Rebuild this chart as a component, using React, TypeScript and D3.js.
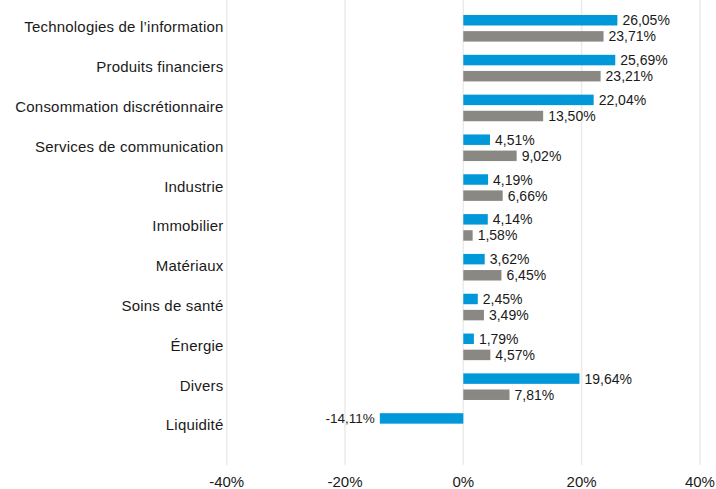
import React from "react";
import * as d3 from "d3";

const categories = [
  "Technologies de l\u2019information",
  "Produits financiers",
  "Consommation discrétionnaire",
  "Services de communication",
  "Industrie",
  "Immobilier",
  "Matériaux",
  "Soins de santé",
  "Énergie",
  "Divers",
  "Liquidité",
];
const fundValues: (number | null)[] = [26.05, 25.69, 22.04, 4.51, 4.19, 4.14, 3.62, 2.45, 1.79, 19.64, -14.11];
const indexValues: (number | null)[] = [23.71, 23.21, 13.5, 9.02, 6.66, 1.58, 6.45, 3.49, 4.57, 7.81, null];
const xTicks = [-40, -20, 0, 20, 40];
const seriesKeys = ["fund", "index"];
const seriesColors = ["#0098d8", "#8a8883"];

const W = 716;
const H = 489;

const fmt = (v: number) => v.toFixed(2).replace(".", ",") + "%";

export default function App() {
  const x = d3.scaleLinear().domain([-40, 40]).range([226.7, 699.9]);
  const y = d3.scaleBand<string>().domain(categories).range([8.4, 446.4]).paddingInner(0).paddingOuter(0);
  const y1 = d3
    .scaleBand<string>()
    .domain(seriesKeys)
    .range([0, y.bandwidth()])
    .paddingInner(0.35)
    .paddingOuter(0.41);
  const series = [fundValues, indexValues];
  const font = "'Liberation Sans', Arial, sans-serif";

  return (
    <svg
      width={W}
      height={H}
      style={{ position: "absolute", left: 0, top: 0, background: "#fff" }}
      fontFamily={font}
    >
      {xTicks.map((t) => (
        <line key={"g" + t} x1={x(t)} x2={x(t)} y1={0} y2={465} stroke="#ebebeb" strokeWidth={1.5} />
      ))}
      {xTicks.map((t) => (
        <text key={"t" + t} x={x(t)} y={486.5} textAnchor="middle" fontSize={15} fill="#1a1a1a">
          {t + "%"}
        </text>
      ))}
      {categories.map((c) => (
        <text
          key={"c" + c}
          x={223.5}
          y={(y(c) as number) + y.bandwidth() / 2 + 4}
          textAnchor="end"
          fontSize={15}
          letterSpacing={0.2}
          fill="#1a1a1a"
        >
          {c}
        </text>
      ))}
      {series.map((vals, si) =>
        vals.map((v, i) => {
          if (v === null) return null;
          const c = categories[i];
          const by = (y(c) as number) + (y1(seriesKeys[si]) as number);
          const bh = y1.bandwidth();
          const x0 = x(0);
          const x1 = x(v);
          const left = Math.min(x0, x1);
          const w = Math.abs(x1 - x0);
          return (
            <g key={si + "-" + i}>
              <rect x={left} y={by} width={w} height={bh} fill={seriesColors[si]} />
              <text
                x={v >= 0 ? x1 + 5 : x1 - 5}
                y={by + bh / 2 + 5}
                textAnchor={v >= 0 ? "start" : "end"}
                fontSize={v >= 0 ? 14 : 13.5}
                fill="#1a1a1a"
              >
                {fmt(v)}
              </text>
            </g>
          );
        })
      )}
    </svg>
  );
}
